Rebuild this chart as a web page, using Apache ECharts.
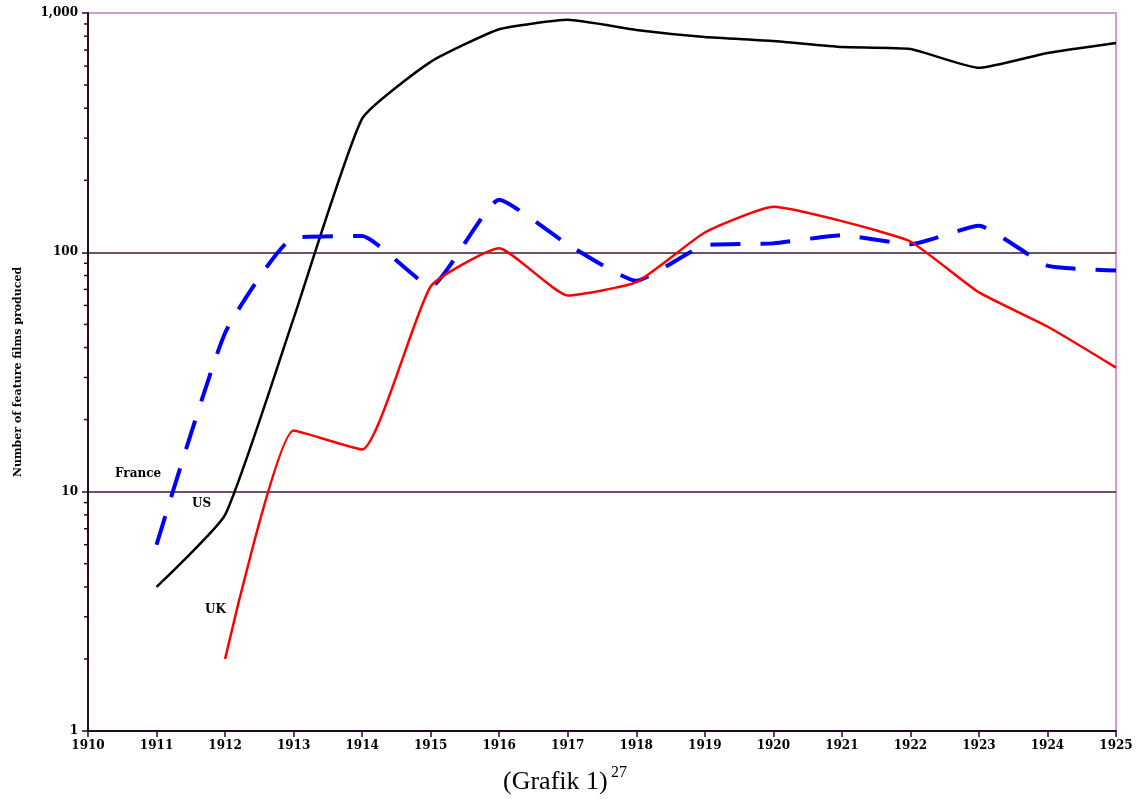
<!DOCTYPE html>
<html lang="en">
<head>
  <meta charset="utf-8">
  <title>Feature films produced</title>
  <style>
    html, body { margin: 0; padding: 0; background: #fff; }
    .box { width: 1137px; height: 799px; }
  </style>
</head>
<body>
  <script type="text/javascript" src="https://cdn.jsdelivr.net/npm/echarts@6/dist/echarts.min.js"></script>
  <div class="box"></div>
  <script>
    // data
    var years = [1911, 1912, 1913, 1914, 1915, 1916, 1917, 1918, 1919, 1920, 1921, 1922, 1923, 1924, 1925];
    var usFilms = [4, 8, 53, 362, 625, 855, 936, 850, 794, 764, 721, 707, 590, 681, 750];
    var franceFilms = [6, 46, 115, 117, 72, 166, 108, 76, 107, 109, 118, 108, 129, 88, 84];
    var ukYears = [1912, 1913, 1914, 1915, 1916, 1917, 1918, 1919, 1920, 1921, 1922, 1923, 1924, 1925];
    var ukFilms = [2, 18, 15, 72, 104, 66, 75, 121, 155, 135, 111, 68, 49, 33];
    var minorTicks = [2, 3, 4, 5, 6, 7, 8, 9, 20, 30, 40, 50, 60, 70, 80, 90, 200, 300, 400, 500, 600, 700, 800, 900];

    function pairs(xs, ys) {
      return xs.map(function (x, i) { return [x, ys[i]]; });
    }

    var axisFont = { fontFamily: 'DejaVu Serif', fontWeight: 'bold', fontSize: 12, color: '#000' };
    var lblFont = 'bold 12px "DejaVu Serif"';

    var box = document.querySelector('.box');
    var myChart = echarts.init(box);

    var option = {
      animation: false,
      grid: {
        left: 88, right: 21, top: 13, bottom: 68,
        show: true,
        borderColor: '#d69ad6',
        borderWidth: 2
      },
      xAxis: {
        type: 'value',
        min: 1910,
        max: 1925,
        interval: 1,
        axisLine: { lineStyle: { color: '#240824', width: 2 } },
        axisTick: { show: true, length: 6, lineStyle: { color: '#240824', width: 1.5 } },
        axisLabel: Object.assign({ margin: 9, formatter: function (v) { return String(v); } }, axisFont),
        splitLine: { show: false }
      },
      yAxis: {
        type: 'log',
        logBase: 10,
        min: 1,
        max: 1000,
        name: 'Number of feature films produced',
        nameLocation: 'middle',
        nameGap: 64,
        nameTextStyle: { fontFamily: 'DejaVu Serif', fontWeight: 'bold', fontSize: 11, color: '#000' },
        axisLine: { show: true, lineStyle: { color: '#240824', width: 2 } },
        axisTick: { show: true, length: 6, lineStyle: { color: '#240824', width: 1.5 } },
        axisLabel: Object.assign({
          margin: 10,
          formatter: function (v) { return v === 1000 ? '1,000' : String(v); }
        }, axisFont),
        splitLine: {
          show: true,
          showMinLine: false,
          showMaxLine: false,
          lineStyle: { color: '#3a1a3a', width: 1.5 }
        }
      },
      graphic: [
        { type: 'text', left: 115, top: 468, style: { text: 'France', font: lblFont, fill: '#000' } },
        { type: 'text', left: 192, top: 498, style: { text: 'US', font: lblFont, fill: '#000' } },
        { type: 'text', left: 205, top: 604, style: { text: 'UK', font: lblFont, fill: '#000' } },
        { type: 'text', left: 503, top: 769, style: { text: '(Grafik 1)', font: '26px "Liberation Serif"', fill: '#000' } },
        { type: 'text', left: 611, top: 765, style: { text: '27', font: '16px "Liberation Serif"', fill: '#000' } }
      ],
      series: [
        {
          name: 'US',
          type: 'line',
          data: pairs(years, usFilms),
          smooth: 0.15,
          symbol: 'none',
          lineStyle: { color: '#000', width: 2.5 },
          z: 3
        },
        {
          name: 'France',
          type: 'line',
          data: pairs(years, franceFilms),
          smooth: 0.15,
          symbol: 'none',
          lineStyle: { color: '#0000ff', width: 4, type: [30, 20] },
          z: 4
        },
        {
          name: 'UK',
          type: 'line',
          data: pairs(ukYears, ukFilms),
          smooth: 0.15,
          symbol: 'none',
          lineStyle: { color: '#ff0000', width: 2.5 },
          z: 5
        },
        {
          // minor ticks of the log axis
          type: 'custom',
          clip: false,
          silent: true,
          data: minorTicks.map(function (v) { return [1910, v]; }),
          renderItem: function (params, api) {
            var p = api.coord([api.value(0), api.value(1)]);
            return {
              type: 'line',
              shape: { x1: p[0] - 4, y1: p[1], x2: p[0], y2: p[1] },
              style: { stroke: '#240824', lineWidth: 1.5 }
            };
          }
        }
      ]
    };
    myChart.setOption(option);
  </script>
</body>
</html>
